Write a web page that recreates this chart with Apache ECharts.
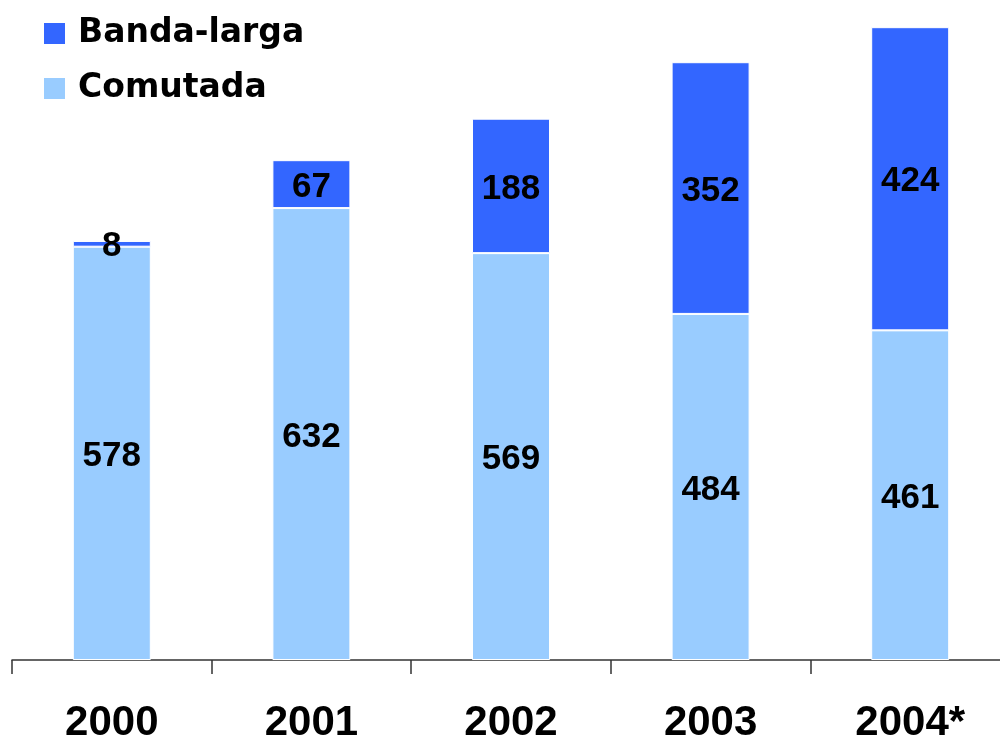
<!DOCTYPE html>
<html>
<head>
<meta charset="utf-8">
<script src="https://cdn.jsdelivr.net/npm/echarts@6/dist/echarts.min.js"></script>
<style>html,body{margin:0;padding:0;background:#fff}#c{width:1000px;height:742px}</style>
</head>
<body>
<div id="c"></div>
<script>
const categories = ['2000', '2001', '2002', '2003', '2004*'];
const comutada = [578, 632, 569, 484, 461];
const bandaLarga = [8, 67, 188, 352, 424];
const seriesNames = ['Banda-larga', 'Comutada'];

const chart = echarts.init(document.getElementById('c'), null, {renderer: 'canvas'});
const labelStyle = {
  show: true, position: 'inside', offset: [0, 3], color: '#000',
  fontFamily: 'Liberation Sans, Arial, sans-serif', fontWeight: 'bold', fontSize: 35
};
chart.setOption({
  animation: false,
  backgroundColor: '#fff',
  grid: {left: 12, width: 998, top: 0, bottom: 82, outerBoundsMode: 'none', containLabel: false},
  legend: {
    data: seriesNames,
    orient: 'vertical',
    left: 42, top: 17, padding: 0,
    itemWidth: 23, itemHeight: 23, itemGap: 22,
    icon: 'rect',
    textStyle: {fontFamily: 'DejaVu Sans, sans-serif', fontWeight: 'bold', fontSize: 33, color: '#000', lineHeight: 23, padding: [0, 0, 0, 7]}
  },
  xAxis: {
    type: 'category', data: categories,
    axisLine: {lineStyle: {color: '#333', width: 1.5}},
    axisTick: {show: true, length: 14, lineStyle: {color: '#333', width: 1.5}},
    axisLabel: {margin: 42, color: '#000', fontFamily: 'Liberation Sans, Arial, sans-serif', fontWeight: 'bold', fontSize: 42}
  },
  yAxis: {type: 'value', min: 0, max: 923, show: false, splitLine: {show: false}},
  series: [
    {name: 'Comutada', type: 'bar', stack: 't', data: comutada, barWidth: 78,
     itemStyle: {color: '#99CCFF', borderColor: '#fff', borderWidth: 1}, label: labelStyle},
    {name: 'Banda-larga', type: 'bar', stack: 't', data: bandaLarga, barWidth: 78,
     itemStyle: {color: '#3366FF', borderColor: '#fff', borderWidth: 1}, label: labelStyle}
  ]
});
</script>
</body>
</html>
